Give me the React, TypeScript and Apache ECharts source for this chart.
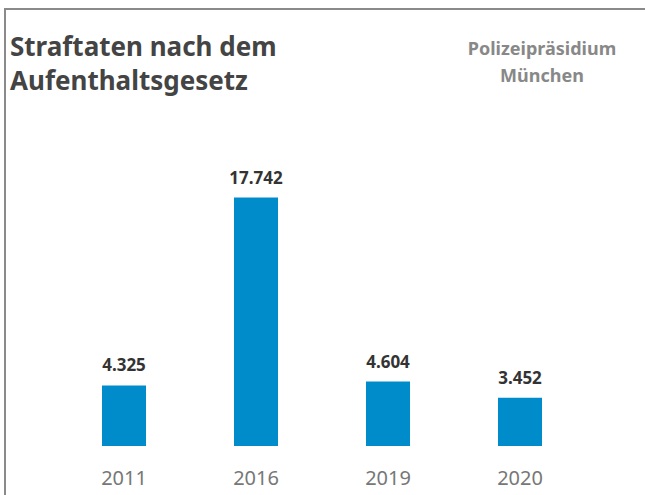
import React, { useEffect, useRef } from "react";
import * as echarts from "echarts";

const categories = ["2011", "2016", "2019", "2020"];
const values = [4325, 17742, 4604, 3452];
const titleLines = ["Straftaten nach dem", "Aufenthaltsgesetz"];
const sourceLines = ["Polizeipräsidium", "München"];

const fmt = (v: number) => v.toLocaleString("de-DE");

export default function App() {
  const ref = useRef<HTMLDivElement>(null);
  useEffect(() => {
    document.body.style.margin = "0";
    const chart = echarts.init(ref.current!, null, { renderer: "svg" });
    const font = "'Noto Sans', sans-serif";
    chart.setOption({
      animation: false,
      backgroundColor: "#ffffff",
      grid: { left: 58, right: 59, top: 166, bottom: 49 },
      xAxis: {
        type: "category",
        data: categories,
        axisLine: { show: false },
        axisTick: { show: false },
        axisLabel: { color: "#777777", fontSize: 20, fontFamily: font, margin: 21 },
      },
      yAxis: { type: "value", min: 0, max: 20000, show: false, splitLine: { show: false } },
      series: [
        {
          type: "bar",
          data: values,
          barWidth: 44,
          itemStyle: { color: "#008ccb" },
          label: {
            show: true,
            position: "top",
            distance: 12,
            color: "#333333",
            fontWeight: "bold",
            fontSize: 17,
            fontFamily: font,
            formatter: (p: any) => fmt(p.value),
          },
        },
      ],
      graphic: [
        {
          type: "rect",
          shape: { x: 5, y: 9, width: 700, height: 600 },
          style: { fill: "none", stroke: "#8a8a8a", lineWidth: 2 },
          silent: true,
        },
        {
          type: "text",
          left: 10,
          top: 29,
          style: {
            text: titleLines.join("\n"),
            fill: "#444444",
            font: `bold 26px ${font}`,
            lineHeight: 34,
          },
        },
        {
          type: "text",
          x: 542,
          y: 34,
          style: {
            text: sourceLines.join("\n"),
            fill: "#888888",
            font: `bold 18px ${font}`,
            lineHeight: 27,
            align: "center",
          },
        },
      ],
    });
    return () => chart.dispose();
  }, []);
  return <div ref={ref} style={{ width: 645, height: 495, position: "fixed", left: 0, top: 0 }} />;
}
